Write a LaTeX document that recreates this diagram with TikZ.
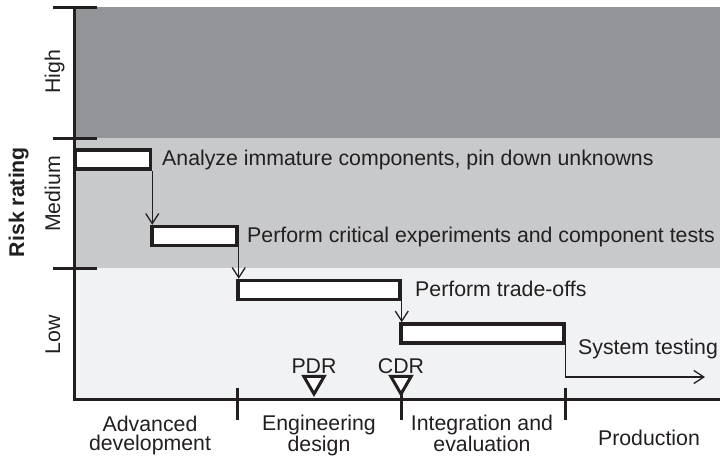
\documentclass[tikz,border=0pt]{standalone}
\usepackage{fontspec}
\setmainfont{Liberation Sans}
\usetikzlibrary{arrows.meta, shapes.geometric, positioning}
\definecolor{riskhigh}{RGB}{147,149,152}
\definecolor{riskmed}{RGB}{200,201,203}
\definecolor{risklow}{RGB}{241,242,244}
\definecolor{inkblack}{RGB}{35,31,32}

\begin{document}
\begin{tikzpicture}[x=1pt,y=-1pt,font=\fontsize{21.3}{19.5}\selectfont,
    axisline/.style={draw=inkblack,line width=3pt},
    flow/.style={draw=inkblack,line width=1.3pt,-{Straight Barb[length=10pt,width=13pt]}},
    note/.style={anchor=base west,inner sep=0pt,text=inkblack},
    phase/.style={align=center,inner sep=0pt,text=inkblack},
    level/.style={rotate=90,anchor=base,inner sep=0pt,text=inkblack},
    milestone/.style={regular polygon,regular polygon sides=3,shape border rotate=180,
      draw=inkblack,fill=white,line width=3pt,inner sep=0pt,minimum size=23.5pt,anchor=corner 1}]
        \useasboundingbox (0,0) rectangle (720,464);
        \fill[riskhigh] (74,7) rectangle (720,138);
        \fill[riskmed] (74,138) rectangle (720,268);
        \fill[risklow] (74,268) rectangle (720,399);

        \draw[axisline] (74.5,7) -- (74.5,399) -- (720,399);
        \draw[axisline] (53,7) -- (97,7);
        \draw[axisline] (53,138) -- (97,138);
        \draw[axisline] (53,268) -- (97,268);
        \draw[axisline] (237,388) -- (237,420);
        \draw[axisline] (401,388) -- (401,420);
        \draw[axisline] (565,388) -- (565,420);

        \node[level] (high) at (60,72) {High};
        \node[level] (medium) at (60,194) {Medium};
        \node[level] (low) at (60,335) {Low};
        \node[level,font=\fontsize{21.3}{19.5}\selectfont\bfseries] (risk) at (24,202) {Risk rating};

        \begin{scope}[every node/.style={rectangle,draw=inkblack,fill=white,line width=3.5pt,
            minimum height=19pt,inner sep=0pt}]
          \node[minimum width=75pt] (b1) at (113,159.5) {};
          \node[minimum width=85pt] (b2) at (194.5,236) {};
          \node[minimum width=162pt] (b3) at (319,290) {};
          \node[minimum width=163pt] (b4) at (482.5,333.5) {};
        \end{scope}
        \coordinate (sysend) at (705,377);

        \draw[flow] (b1.south east) -- (b1.south east |- b2.north);
        \draw[flow] (b2.south east) -- (b2.south east |- b3.north);
        \draw[flow] (b3.south east) -- (b3.south east |- b4.north);
        \draw[flow] (b4.south east) |- (sysend);

        \node[note] (t1) at (162,165) {Analyze immature components, pin down unknowns};
        \node[note] (t2) at (247,242) {Perform critical experiments and component tests};
        \node[note] (t3) at (415,296) {Perform trade-offs};
        \node[note] (t4) at (578,354) {System testing};

        \node[milestone] (pdr) at (314,397) {};
        \node[milestone] (cdr) at (401,397) {};
        \node[note,anchor=base] (pdrtext) at (314,373) {PDR};
        \node[note,anchor=base] (cdrtext) at (401,373) {CDR};

        \node[phase] (advanced) at (150,435.5) {Advanced\\development};
        \node[phase] (engineering) at (319,435.5) {Engineering\\design};
        \node[phase] (integration) at (482,433.5) {Integration and\\evaluation};
        \node[phase] (production) at (649,437.5) {Production};
\end{tikzpicture}
\end{document}
